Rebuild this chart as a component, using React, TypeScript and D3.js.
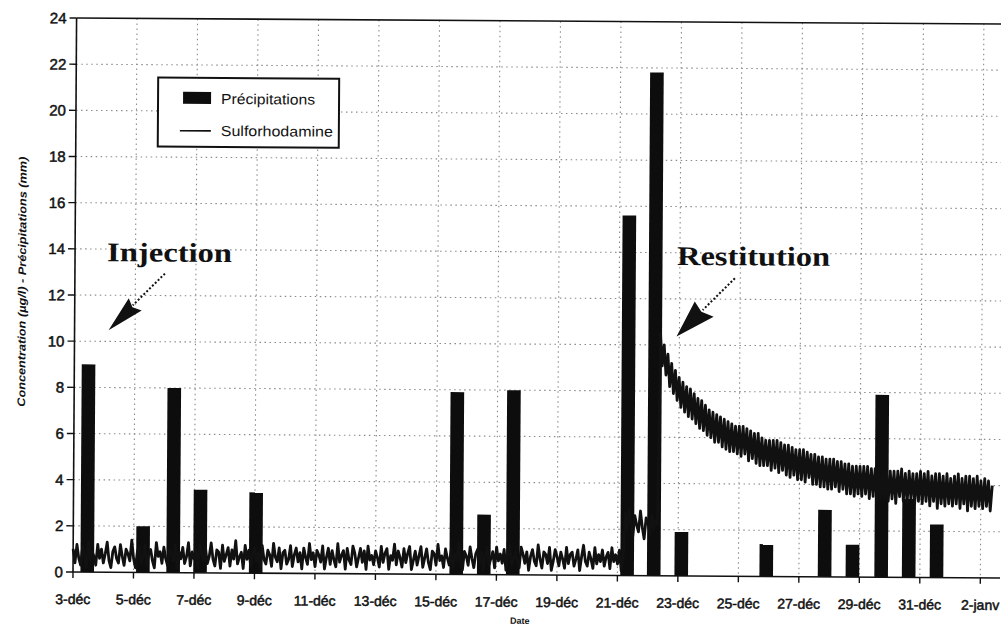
import React from 'react';
import * as d3 from 'd3';

// ---------- data ----------
const xTickDays = [0, 2, 4, 6, 8, 10, 12, 14, 16, 18, 20, 22, 24, 26, 28, 30];
const xTickLabels = ['3-déc', '5-déc', '7-déc', '9-déc', '11-déc', '13-déc', '15-déc', '17-déc', '19-déc', '21-déc', '23-déc', '25-déc', '27-déc', '29-déc', '31-déc', '2-janv'];
const yTicks = [0, 2, 4, 6, 8, 10, 12, 14, 16, 18, 20, 22, 24];

// Précipitations (mm): day offset from 3-déc, value
const precipDays = [0.47, 2.31, 3.31, 4.2, 6.04, 12.67, 13.58, 14.54, 18.32, 19.2, 20.11, 22.92, 24.85, 25.77, 26.72, 27.63, 28.55];
const precipValues = [9.0, 2.0, 8.0, 3.6, 3.5, 7.9, 2.6, 8.0, 15.6, 21.8, 1.9, 1.4, 2.9, 1.4, 7.9, 3.4, 2.3];

// Sulforhodamine (µg/l): sampled every 0.0625 day from 3-déc
const sulfoStartDay = 0;
const sulfoStepDay = 0.0625;
// background level before the flood (3-déc -> 21-déc)
const sulfoBackground = [
  1.0, 0.4, 1.2, 0.6, 0.3, 1.1, 0.8, 0.2, 1.3, 0.5, 0.9, 0.7, 0.3, 1.2, 0.6, 1.0, 0.4, 0.8, 1.3, 0.5,
  0.2, 0.9, 1.1, 0.6, 0.4, 1.2, 0.7, 0.3, 1.0, 0.8, 0.5, 1.4, 0.6, 0.2, 0.9, 1.1, 0.4, 0.7, 1.2, 0.3,
  0.8, 1.0, 0.5, 0.2, 1.3, 0.7, 0.9, 0.4, 1.1, 0.6, 0.3, 1.0, 0.8, 0.5, 1.2, 0.2, 0.9, 0.6, 1.1, 0.4,
  0.7, 1.3, 0.3, 0.9, 0.6, 1.0, 0.2, 1.2, 0.8, 0.5, 1.1, 0.4, 0.7, 1.3, 0.6, 0.3, 1.0, 0.9, 0.2, 1.2,
  0.5, 0.8, 1.1, 0.3, 1.0, 0.6, 1.4, 0.4, 0.7, 0.9, 0.2, 1.2, 0.6, 1.0, 0.3, 0.8, 1.1, 0.5, 0.9, 0.2,
  1.2, 0.6, 0.4, 1.0, 0.8, 0.3, 1.3, 0.7, 0.5, 1.1, 0.2, 0.9, 1.0, 0.4, 0.6, 1.2, 0.3, 0.8, 1.1, 0.5,
  0.9, 0.2, 1.1, 0.7, 0.4, 1.3, 0.6, 0.9, 0.3, 1.0, 0.8, 0.5, 1.2, 0.2, 0.7, 1.1, 0.4, 1.0, 0.6, 0.3,
  1.3, 0.5, 0.8, 1.0, 0.2, 1.1, 0.6, 0.4, 1.2, 0.9, 0.3, 0.7, 1.1, 0.5, 1.0, 0.2, 1.2, 0.6, 0.8, 0.4,
  1.0, 0.7, 0.3, 1.2, 0.5, 0.9, 1.1, 0.2, 0.8, 0.6, 1.3, 0.4, 1.0, 0.7, 0.3, 1.1, 0.5, 0.9, 1.2, 0.2,
  0.6, 1.0, 0.4, 0.8, 1.2, 0.3, 0.7, 1.1, 0.5, 0.2, 1.0, 0.9, 0.4, 1.3, 0.6, 0.8, 0.3, 1.1, 0.7, 0.4,
  1.1, 0.3, 0.9, 0.6, 1.4, 0.5, 0.2, 1.0, 0.8, 0.4, 1.2, 0.7, 0.3, 0.9, 1.1, 0.5, 1.0, 0.2, 0.8, 1.2,
  0.4, 0.7, 1.0, 0.3, 1.2, 0.6, 0.9, 0.5, 1.1, 0.2, 0.8, 1.3, 0.4, 0.7, 1.0, 0.6, 0.3, 1.2, 0.9, 0.5,
  1.0, 0.2, 0.8, 1.1, 0.6, 0.4, 1.3, 0.7, 0.3, 1.0, 0.9, 0.5, 1.2, 0.2, 0.6, 1.1, 0.8, 0.4, 1.0, 0.7,
  0.3, 1.2, 0.5, 0.9, 1.0, 0.4, 0.7, 1.1, 0.2, 0.8, 1.3, 0.6, 0.4, 1.0, 0.7, 0.3, 1.2, 0.5, 0.9, 0.6,
  1.1, 0.4, 0.8, 1.0, 0.3, 1.2, 0.6, 0.9, 0.5, 1.1, 0.2, 0.8,
];
// first rise between the two big rains (21-déc -> 22-déc)
const sulfoRise = [2.7, 2.0, 2.9, 2.3, 1.7, 2.6, 2.2, 1.9, 2.8, 2.1, 1.6, 2.5, 2.3, 1.8, 2.6, 2.0, 2.4, 2.2];
// restitution peak and recession (22-déc -> 2-janv)
const sulfoRecession = [
  10.5, 9.1, 10.0, 8.7, 9.6, 8.2, 9.2, 7.9, 8.9, 7.6, 8.6,
  7.3, 8.4, 7.1, 8.2, 6.9, 8.1, 6.8, 7.9, 6.6, 7.7, 6.4, 7.6, 6.3, 7.4, 6.1, 7.2,
  6.0, 7.1, 5.8, 7.0, 5.8, 6.9, 5.6, 6.8, 5.5, 6.7, 5.4, 6.6, 5.4, 6.5, 5.3, 6.5,
  5.2, 6.5, 5.3, 6.4, 5.0, 6.3, 5.1, 6.2, 4.9, 6.2, 4.8, 6.0, 4.8, 5.9, 4.8, 5.9,
  4.6, 5.9, 4.7, 5.9, 4.5, 5.8, 4.6, 5.7, 4.4, 5.7, 4.3, 5.6, 4.4, 5.5, 4.2, 5.5,
  4.2, 5.5, 4.1, 5.4, 4.3, 5.3, 4.0, 5.3, 4.0, 5.2, 3.9, 5.2, 3.9, 5.1, 3.8, 5.1,
  3.8, 5.1, 3.9, 5.0, 3.7, 5.0, 3.8, 4.9, 3.6, 4.9, 3.6, 4.8, 3.5, 4.8, 3.6, 4.8,
  3.5, 4.8, 3.6, 4.8, 3.4, 4.7, 3.5, 4.7, 3.3, 4.7, 3.4, 4.6, 3.4, 4.6, 3.3, 4.6,
  3.4, 4.6, 3.2, 4.6, 3.5, 4.7, 3.3, 4.5, 3.2, 4.6, 3.4, 4.5, 3.2, 4.5, 3.3, 4.6,
  3.2, 4.5, 3.3, 4.6, 3.1, 4.4, 3.3, 4.5, 3.0, 4.5, 3.2, 4.4, 3.1, 4.5, 3.2, 4.3,
  3.1, 4.4, 3.2, 4.5, 3.0, 4.3, 3.2, 4.4, 2.9, 4.4, 3.1, 4.3, 3.0, 4.4, 3.1, 4.2,
  3.0, 4.3, 3.1, 4.2, 2.9, 4.0,
];
const sulfoValues = [...sulfoBackground, ...sulfoRise, ...sulfoRecession];

// ---------- component ----------
const W = 1001;
const H = 627;
const SANS = 'Liberation Sans, Arial, Helvetica, sans-serif';
const SERIF = 'Liberation Serif, Times New Roman, serif';

export default function App() {
  const x = d3.scaleLinear().domain([0, 30.65]).range([73, 1000]);
  const y = d3.scaleLinear().domain([0, 24]).range([572, 18]);
  const barW = x(0.45) - x(0);

  const pts: [number, number][] = sulfoValues.map((v, i) => [sulfoStartDay + i * sulfoStepDay, v]);
  const line = d3
    .line<[number, number]>()
    .x((d) => x(d[0]))
    .y((d) => y(d[1]));

  const [xl, xr] = x.range();
  const gridStroke = '#8a8a8a';

  return (
    <svg
      width={W}
      height={H}
      viewBox={`0 0 ${W} ${H}`}
      style={{ position: 'absolute', left: 0, top: 0, background: '#fff' }}
    >
      <rect x={0} y={0} width={W} height={H} fill="#fff" />
      <g transform={`rotate(0.37 ${xl} ${y(0)})`}>
        {/* horizontal grid */}
        {yTicks
          .filter((t) => t > 0 && t < 24)
          .map((t) => (
            <line key={'gy' + t} x1={xl} x2={xr} y1={y(t)} y2={y(t)} stroke={gridStroke} strokeWidth={1.1} strokeDasharray="1.5,3.5" />
          ))}
        {/* vertical grid */}
        {xTickDays
          .filter((d) => d > 0)
          .map((d) => (
            <line key={'gx' + d} x1={x(d)} x2={x(d)} y1={y(24)} y2={y(0)} stroke={gridStroke} strokeWidth={1.1} strokeDasharray="1.5,3.5" />
          ))}

        {/* top border */}
        <line x1={xl} x2={xr} y1={y(24)} y2={y(24)} stroke="#111" strokeWidth={1.6} />

        {/* bars */}
        {precipDays.map((d, i) => (
          <rect key={'b' + i} x={x(d) - barW / 2} y={y(precipValues[i])} width={barW} height={y(0) - y(precipValues[i])} fill="#0d0d0d" />
        ))}

        {/* line */}
        <path d={line(pts) || ''} fill="none" stroke="#111" strokeWidth={2.8} strokeLinejoin="round" />

        {/* axes */}
        <line x1={xl} x2={xl} y1={y(24)} y2={y(0)} stroke="#111" strokeWidth={1.6} />
        <line x1={xl} x2={xr} y1={y(0)} y2={y(0)} stroke="#111" strokeWidth={1.6} />
        {yTicks.map((t) => (
          <g key={'yt' + t}>
            <line x1={xl - 7} x2={xl} y1={y(t)} y2={y(t)} stroke="#111" strokeWidth={1.4} />
            <text x={xl - 10} y={y(t)} dy="0.36em" textAnchor="end" fontFamily={SANS} fontSize={15} fill="#111" stroke="#111" strokeWidth={0.5}>
              {t}
            </text>
          </g>
        ))}
        {xTickDays.map((d, i) => (
          <g key={'xt' + d}>
            <line x1={x(d)} x2={x(d)} y1={y(0)} y2={y(0) + 6} stroke="#111" strokeWidth={1.4} />
            <text x={x(d)} y={604} textAnchor="middle" fontFamily={SANS} fontSize={14} fill="#111" stroke="#111" strokeWidth={0.5}>
              {xTickLabels[i]}
            </text>
          </g>
        ))}

        {/* axis titles */}
        <text
          transform={`translate(24, 282) rotate(-90)`}
          textAnchor="middle"
          fontFamily={SANS}
          fontSize={11}
          fontWeight="bold"
          fontStyle="italic"
          fill="#111"
          textLength={250}
          lengthAdjust="spacingAndGlyphs"
        >
          Concentration (µg/l) - Précipitations (mm)
        </text>
        <text x={520} y={621} textAnchor="middle" fontFamily={SANS} fontSize={9} fontWeight="bold" fill="#111">
          Date
        </text>

        {/* legend */}
        <rect x={155} y={77} width={181} height={69} fill="#fff" stroke="#111" strokeWidth={2} />
        <rect x={180} y={91} width={28} height={12} fill="#0d0d0d" />
        <text x={218} y={103} fontFamily={SANS} fontSize={14.5} fill="#111" textLength={94} lengthAdjust="spacingAndGlyphs">
          Précipitations
        </text>
        <line x1={177} x2={208} y1={130} y2={130} stroke="#111" strokeWidth={1.6} />
        <text x={218} y={135} fontFamily={SANS} fontSize={14.5} fill="#111" textLength={112} lengthAdjust="spacingAndGlyphs">
          Sulforhodamine
        </text>

        {/* annotations */}
        <text x={105} y={261} fontFamily={SERIF} fontSize={27} fontWeight="bold" fill="#111" textLength={125} lengthAdjust="spacingAndGlyphs">
          Injection
        </text>
        <line x1={163} y1={273} x2={131} y2={305} stroke="#111" strokeWidth={2} strokeDasharray="2,2" />
        <polygon points="107,330 127,298 130.7,306.8 140,310" fill="#111" />

        <text x={675} y={261} fontFamily={SERIF} fontSize={27} fontWeight="bold" fill="#111" textLength={153} lengthAdjust="spacingAndGlyphs">
          Restitution
        </text>
        <line x1={733} y1={274} x2={701} y2={306} stroke="#111" strokeWidth={2} strokeDasharray="2,2" />
        <polygon points="675,332.6 693,297.6 699.7,307.8 712,312.6" fill="#111" />
      </g>
    </svg>
  );
}
